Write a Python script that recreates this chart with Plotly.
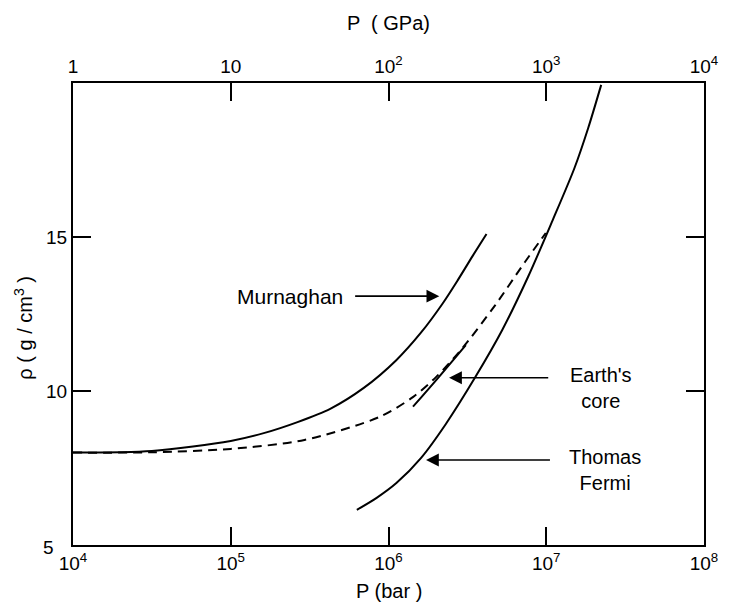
import plotly.graph_objects as go

# Density of iron vs pressure: Murnaghan equation of state, Thomas-Fermi model,
# a dashed interpolation between them, and the seismically inferred core segment.
murnaghan_P = [1e4, 3.16e4, 1e5, 1.64e5, 2.65e5, 4.27e5, 6.97e5, 1.12e6, 1.61e6,
               2.21e6, 2.75e6, 3.41e6, 4.18e6]
murnaghan_rho = [8.0, 8.05, 8.38, 8.64, 8.99, 9.42, 10.1, 11.0, 11.9,
                 12.85, 13.6, 14.38, 15.10]

interp_P = [1e4, 3.16e4, 1e5, 2.93e5, 8.79e5, 1.435e6, 2.0e6, 2.95e6, 4.75e6, 7.33e6, 9.93e6]
interp_rho = [8.0, 8.01, 8.12, 8.41, 9.16, 9.81, 10.45, 11.40, 12.79, 14.19, 15.13]

core_P = [1.43e6, 2.09e6, 3.09e6]
core_rho = [9.49, 10.46, 11.49]

tf_P = [6.30e5, 8.41e5, 1.122e6, 1.61e6, 2.31e6, 3.56e6, 5.26e6, 7.66e6, 1.099e7,
        1.51e7, 1.845e7, 2.23e7]
tf_rho = [6.14, 6.53, 7.01, 7.83, 8.93, 10.46, 11.98, 13.70, 15.55, 17.24, 18.54, 19.94]

bar_ticks = [1e4, 1e5, 1e6, 1e7, 1e8]
bar_labels = ["10<sup>4</sup>", "10<sup>5</sup>", "10<sup>6</sup>", "10<sup>7</sup>", "10<sup>8</sup>"]
gpa_labels = ["1", "10", "10<sup>2</sup>", "10<sup>3</sup>", "10<sup>4</sup>"]
rho_ticks = [5, 10, 15]
rho_labels = ["", "10", "15"]

FONT = "Liberation Sans, Arial, Helvetica, sans-serif"
line = dict(color="black", width=2)

fig = go.Figure()
fig.add_trace(go.Scatter(x=murnaghan_P, y=murnaghan_rho, mode="lines",
                         line=dict(line, shape="spline", smoothing=0.8)))
fig.add_trace(go.Scatter(x=interp_P, y=interp_rho, mode="lines",
                         line=dict(line, dash="9px,6px", shape="spline", smoothing=0.8)))
fig.add_trace(go.Scatter(x=core_P, y=core_rho, mode="lines",
                         line=dict(line, shape="spline")))
fig.add_trace(go.Scatter(x=tf_P, y=tf_rho, mode="lines",
                         line=dict(line, shape="spline", smoothing=0.8)))
# invisible trace so the top pressure axis is drawn
fig.add_trace(go.Scatter(x=bar_ticks, y=[None] * 5, xaxis="x2", mode="lines",
                         hoverinfo="skip", showlegend=False))

axis_common = dict(showline=True, linecolor="black", linewidth=2, ticks="inside",
                   ticklen=18, tickwidth=2, tickcolor="black", showgrid=False,
                   zeroline=False, tickfont=dict(family=FONT, size=19, color="black"))

fig.update_layout(
    width=730, height=607,
    margin=dict(l=73, r=19, t=83, b=62),
    paper_bgcolor="white", plot_bgcolor="white",
    showlegend=False,
    xaxis=dict(axis_common, type="log", range=[4, 8], tickvals=bar_ticks,
               ticktext=bar_labels),
    xaxis2=dict(axis_common, type="log", range=[4, 8], overlaying="x", side="top",
                tickvals=bar_ticks, ticktext=gpa_labels),
    yaxis=dict(axis_common, range=[5, 20], tickvals=rho_ticks, ticktext=rho_labels,
               mirror="ticks"),
)

TXT = dict(family=FONT, size=20, color="black")

def label(x, y, text, size=20):
    fig.add_annotation(x=x, y=y, xref="x", yref="y", text=text, showarrow=False,
                       font=dict(TXT, size=size))

def arrow(x_tail, x_tip, y):
    fig.add_annotation(x=x_tip, y=y, ax=x_tail, ay=y, xref="x", yref="y",
                       axref="x", ayref="y", text="", showarrow=True,
                       arrowhead=2, arrowsize=1.6, arrowwidth=1.6, arrowcolor="black")

# annotation x positions on log axes are given in log10 units
label(5.373, 13.08, "Murnaghan", size=21)
arrow(5.779, 6.322, 13.08)
label(7.35, 10.1, "Earth's<br>core")
arrow(7.022, 6.384, 10.43)
label(7.37, 7.42, "Thomas<br>Fermi")
arrow(7.033, 6.238, 7.76)

# the lowest density label sits a little left of and below its tick
fig.add_annotation(x=-0.039, y=-0.006, xref="paper", yref="paper", text="5",
                   showarrow=False, xanchor="center", yanchor="middle",
                   font=dict(family=FONT, size=19, color="black"))

# axis titles
fig.add_annotation(x=0.5, y=-0.1, xref="paper", yref="paper", text="P (bar )",
                   showarrow=False, yanchor="middle", font=TXT)
fig.add_annotation(x=0.5, y=1.13, xref="paper", yref="paper", text="P  ( GPa)",
                   showarrow=False, yanchor="middle", font=TXT)
fig.add_annotation(x=-0.078, y=0.47, xref="paper", yref="paper",
                   text="ρ ( g / cm<sup>3</sup> )", textangle=-90, showarrow=False,
                   xanchor="center", yanchor="middle", font=TXT)

fig.write_html("out.html")
